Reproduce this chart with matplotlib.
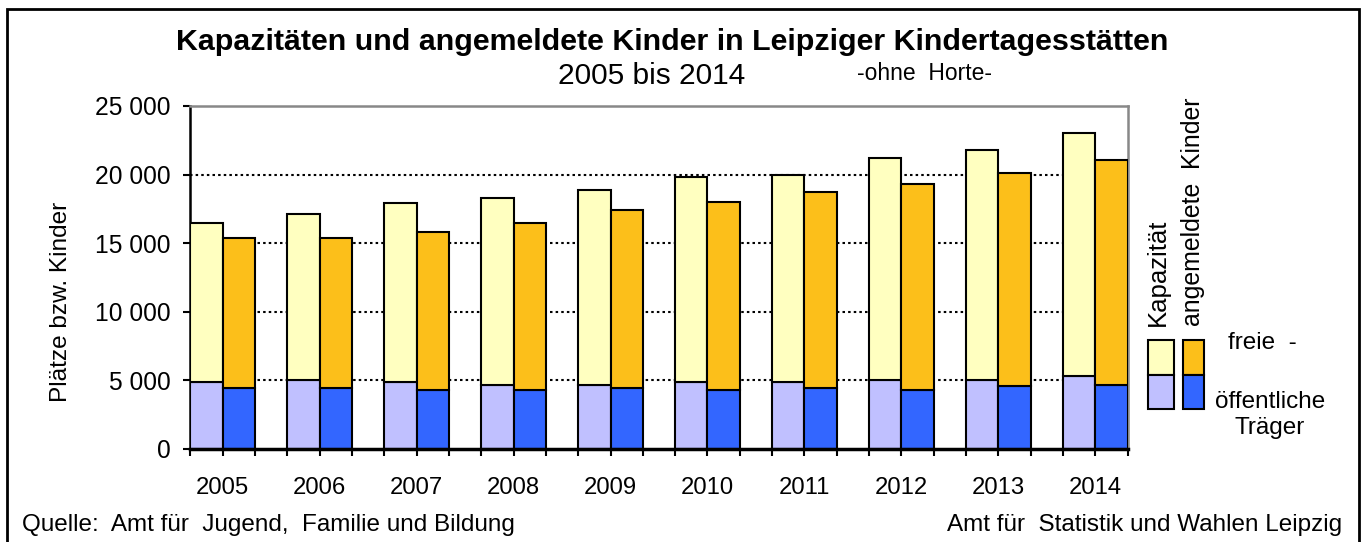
import numpy as np
import matplotlib
matplotlib.use("Agg")
import matplotlib.pyplot as plt
from matplotlib.patches import Rectangle

plt.rcParams['font.family'] = ['Liberation Sans', 'DejaVu Sans']

# --- Daten ---
years = ['2005', '2006', '2007', '2008', '2009', '2010', '2011', '2012', '2013', '2014']
kap_gesamt = [16500, 17150, 17900, 18300, 18850, 19800, 20000, 21200, 21800, 23050]
kap_oeffentlich = [4900, 5000, 4850, 4700, 4700, 4850, 4850, 5000, 5000, 5300]
kinder_gesamt = [15400, 15400, 15800, 16500, 17450, 18000, 18700, 19300, 20100, 21100]
kinder_oeffentlich = [4450, 4450, 4300, 4300, 4450, 4300, 4450, 4300, 4600, 4700]

c_kap_frei = '#FFFFC0'
c_kap_oeff = '#C0C0FF'
c_kin_frei = '#FCBF1A'
c_kin_oeff = '#3366FF'

W, H = 1364, 542
fig = plt.figure(figsize=(W / 100, H / 100), dpi=100)
ax = fig.add_axes([190 / W, 1 - 449 / H, (1128 - 190) / W, (449 - 106) / H])

x = np.arange(len(years))
w = 0.336
kap_frei = np.array(kap_gesamt) - np.array(kap_oeffentlich)
kin_frei = np.array(kinder_gesamt) - np.array(kinder_oeffentlich)

kw = dict(width=w, edgecolor='black', linewidth=1.5, zorder=3)
ax.bar(x - w / 2, kap_oeffentlich, color=c_kap_oeff, **kw)
ax.bar(x - w / 2, kap_frei, bottom=kap_oeffentlich, color=c_kap_frei, **kw)
ax.bar(x + w / 2, kinder_oeffentlich, color=c_kin_oeff, **kw)
ax.bar(x + w / 2, kin_frei, bottom=kinder_oeffentlich, color=c_kin_frei, **kw)

ax.set_xlim(-w, len(years) - 1 + w)
ax.set_ylim(0, 25000)
ax.set_yticks(range(0, 25001, 5000))
ax.set_yticklabels([f"{v:,}".replace(",", " ") for v in range(0, 25001, 5000)], fontsize=17.7)

# Striche an allen Balkenkanten, Jahreszahlen mittig
ax.set_xticks(x)
ax.set_xticklabels(years, fontsize=17.2)
ax.set_xticks(np.concatenate([x - w, x + w]), minor=True)
ax.tick_params(axis='x', which='both', direction='out', length=5, width=1.5, pad=15)
ax.tick_params(axis='y', direction='out', length=5, width=1.5, pad=9)

for v in range(5000, 25000, 5000):
    ax.axhline(v, color='black', linestyle=(0, (1.2, 1.5)), linewidth=1.5, zorder=1)

ax.spines['left'].set_linewidth(1.8)
ax.spines['bottom'].set_linewidth(2.5)
ax.spines['bottom'].set_zorder(4)
ax.spines['top'].set_color('#888888')
ax.spines['top'].set_linewidth(1.8)
ax.spines['right'].set_color('#888888')
ax.spines['right'].set_linewidth(1.8)

fig.text(61 / W, 1 - 302 / H, 'Plätze bzw. Kinder', rotation=90, fontsize=17.6,
         ha='center', va='center')

# Titel
fig.text(672 / W, 1 - 42 / H, 'Kapazitäten und angemeldete Kinder in Leipziger Kindertagesstätten',
         fontsize=21.9, fontweight='bold', ha='center', va='center')
fig.text(652 / W, 1 - 76 / H, '2005 bis 2014', fontsize=21.5, ha='center', va='center')
fig.text(925 / W, 1 - 73 / H, '-ohne  Horte-', fontsize=16.5, ha='center', va='center')

# Legende
def legend_box(x0, x1, y0, y1, color):
    fig.patches.append(Rectangle((x0 / W, 1 - y1 / H), (x1 - x0) / W, (y1 - y0) / H,
                                 transform=fig.transFigure, facecolor=color,
                                 edgecolor='black', linewidth=1.5))

legend_box(1148, 1174, 340, 375, c_kap_frei)
legend_box(1148, 1174, 375, 409, c_kap_oeff)
legend_box(1183, 1204, 340, 375, c_kin_frei)
legend_box(1183, 1204, 375, 409, c_kin_oeff)

fig.text(1158 / W, 1 - 326 / H, 'Kapazität', rotation=90, fontsize=18.5, ha='center', va='bottom')
fig.text(1193 / W, 1 - 326 / H, 'angemeldete  Kinder', rotation=90, fontsize=17.9,
         ha='center', va='bottom')
fig.text(1228 / W, 1 - 343 / H, 'freie  -', fontsize=17.5, ha='left', va='center')
fig.text(1270 / W, 1 - 391 / H, 'öffentliche\nTräger', fontsize=17.5, ha='center', va='top',
         multialignment='center', linespacing=1.25)

# Quellen
fig.text(22 / W, 1 - 525 / H, 'Quelle:  Amt für  Jugend,  Familie und Bildung', fontsize=17.5,
         ha='left', va='center')
fig.text(1342 / W, 1 - 525 / H, 'Amt für  Statistik und Wahlen Leipzig', fontsize=17.5,
         ha='right', va='center')

# Rahmen
fig.patches.append(Rectangle((7 / W, -0.02), (1359 - 7) / W, 1.02 - 9 / H,
                             transform=fig.transFigure, fill=False,
                             edgecolor='black', linewidth=2))

fig.savefig('out.png', dpi=100)
